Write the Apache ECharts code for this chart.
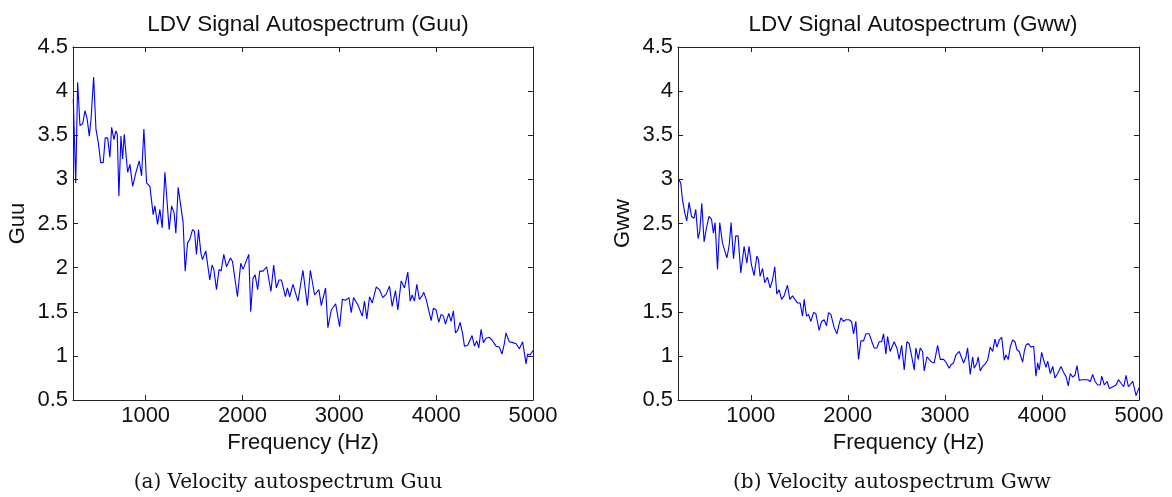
<!DOCTYPE html>
<html><head><meta charset="utf-8">
<script src="https://cdn.jsdelivr.net/npm/echarts@6/dist/echarts.min.js"></script>
<style>html,body{margin:0;padding:0;background:#fff}#c{width:1172px;height:497px}</style>
</head><body><div id="c"></div>
<script>
const xTicks = [1000, 2000, 3000, 4000, 5000];
const freqGuu = [253,278,298,322,350,374,397,418,436,463,487,511,536,562,583,608,631,649,673,693,707,724,745,762,779,814,838,866,900,934,958,982,1010,1044,1078,1096,1123,1147,1171,1199,1243,1268,1294,1312,1336,1387,1408,1433,1456,1484,1505,1525,1546,1570,1587,1621,1662,1686,1704,1732,1758,1779,1807,1835,1851,1876,1897,1917,1948,1982,2006,2026,2065,2085,2109,2130,2157,2178,2212,2250,2294,2322,2350,2377,2402,2443,2464,2487,2521,2573,2624,2670,2701,2745,2789,2814,2858,2882,2917,2962,3003,3031,3065,3099,3123,3147,3191,3209,3237,3260,3284,3312,3340,3381,3415,3449,3484,3518,3546,3580,3604,3639,3673,3707,3732,3752,3776,3800,3827,3855,3872,3897,3913,3948,3972,4000,4027,4051,4075,4096,4130,4154,4178,4199,4222,4247,4274,4292,4326,4343,4371,4395,4419,4440,4464,4488,4515,4549,4577,4618,4652,4680,4704,4721,4755,4790,4824,4859,4893,4928,4944,4969,5000];
const valGuu = [3.91,2.96,4.10,3.61,3.63,3.78,3.68,3.49,3.68,4.16,3.57,3.42,3.19,3.19,3.47,3.47,3.25,3.59,3.45,3.55,3.51,2.81,3.49,3.23,3.51,3.08,3.17,2.92,3.08,3.21,3.04,3.57,2.96,2.92,2.60,2.70,2.49,2.66,2.45,3.08,2.43,2.70,2.62,2.39,2.91,2.51,1.96,2.28,2.32,2.43,2.41,2.15,2.43,2.17,2.09,2.19,1.86,2.03,1.98,1.75,1.98,1.96,2.15,2.01,2.01,2.11,2.07,2.05,1.67,2.05,1.98,2.00,2.15,1.50,1.88,1.92,1.75,1.96,1.96,2.01,1.73,2.03,1.77,1.86,1.86,1.67,1.77,1.67,1.81,1.62,1.97,1.57,1.97,1.69,1.75,1.57,1.77,1.32,1.52,1.59,1.33,1.64,1.63,1.66,1.49,1.66,1.58,1.59,1.45,1.62,1.42,1.67,1.60,1.78,1.75,1.66,1.70,1.79,1.56,1.74,1.52,1.85,1.77,1.95,1.62,1.69,1.62,1.81,1.64,1.68,1.72,1.64,1.62,1.40,1.54,1.52,1.38,1.47,1.45,1.36,1.48,1.39,1.51,1.26,1.29,1.38,1.25,1.11,1.12,1.10,1.23,1.11,1.17,1.09,1.30,1.15,1.20,1.21,1.18,1.11,1.10,1.02,1.14,1.26,1.16,1.15,1.14,1.08,1.16,0.91,1.02,1.01,1.06];
const freqGww = [255,278,296,320,340,364,389,415,433,457,474,495,519,543,570,595,615,632,657,680,708,753,776,797,822,845,869,897,931,959,982,1007,1034,1062,1079,1096,1121,1144,1172,1199,1224,1247,1268,1292,1317,1343,1378,1402,1430,1454,1481,1508,1533,1550,1574,1595,1619,1646,1670,1704,1729,1756,1780,1801,1825,1859,1887,1910,1928,1956,1979,2013,2038,2059,2083,2110,2134,2162,2186,2220,2248,2271,2299,2323,2348,2368,2392,2409,2436,2444,2477,2505,2529,2554,2581,2608,2632,2657,2684,2701,2725,2746,2770,2787,2815,2838,2863,2890,2925,2952,2987,3010,3044,3062,3089,3114,3131,3148,3165,3193,3217,3234,3261,3286,3302,3330,3343,3364,3389,3416,3440,3467,3492,3516,3536,3560,3585,3612,3629,3653,3673,3698,3722,3742,3766,3801,3818,3835,3859,3887,3915,3938,3956,3972,3997,4018,4041,4059,4086,4111,4134,4162,4196,4224,4247,4271,4292,4316,4340,4361,4385,4409,4436,4471,4498,4523,4547,4574,4601,4616,4643,4671,4695,4730,4764,4788,4815,4843,4866,4891,4911,4936,4970,4994,5000];
const valGww = [3.00,2.96,2.77,2.62,2.53,2.74,2.58,2.56,2.66,2.33,2.41,2.73,2.29,2.45,2.58,2.55,2.39,2.51,1.98,2.51,2.28,2.11,2.24,2.51,2.10,2.36,2.36,1.94,2.24,2.05,2.24,2.03,1.91,2.13,2.09,1.90,1.99,1.83,1.89,1.77,1.86,2.01,1.70,1.75,1.64,1.68,1.80,1.64,1.68,1.64,1.60,1.60,1.45,1.64,1.45,1.47,1.39,1.49,1.48,1.29,1.39,1.41,1.34,1.49,1.47,1.32,1.25,1.36,1.43,1.39,1.41,1.41,1.39,1.25,1.39,0.96,1.17,1.17,1.25,1.25,1.16,1.09,1.09,1.16,1.16,1.25,1.02,1.22,1.05,1.07,1.16,1.09,0.96,1.12,0.84,1.16,1.14,1.00,0.84,1.09,0.96,1.09,1.05,0.83,0.99,0.96,0.93,0.92,1.12,0.96,0.96,0.93,0.86,0.90,0.92,1.01,0.99,1.05,1.07,0.92,0.99,1.09,0.79,0.99,0.86,0.92,0.99,0.83,0.88,0.91,0.95,1.10,1.05,1.19,1.10,1.18,1.21,0.95,1.01,0.96,1.10,1.18,1.16,1.07,1.05,0.93,1.05,1.12,1.14,1.10,1.11,0.77,0.92,0.84,1.04,0.95,0.87,0.94,0.80,0.88,0.75,0.80,0.88,0.81,0.77,0.66,0.80,0.76,0.78,0.89,0.72,0.73,0.73,0.73,0.71,0.79,0.71,0.67,0.67,0.77,0.67,0.71,0.63,0.65,0.67,0.73,0.69,0.65,0.78,0.65,0.65,0.71,0.55,0.62,0.64];
const titles = ['LDV Signal Autospectrum (Guu)', 'LDV Signal Autospectrum (Gww)'];
const yNames = ['Guu', 'Gww'];
const xName = 'Frequency (Hz)';
const captions = ['(a) Velocity autospectrum Guu', '(b) Velocity autospectrum Gww'];

const sans = 'Liberation Sans';
const ink = '#111';
const axisCol = '#222';
const grids = [{left: 73, top: 47, width: 460, height: 353}, {left: 678, top: 47, width: 461, height: 353}];
const xAxes = [], yAxes = [];
grids.forEach((g, i) => {
  const tick = {show: true, inside: true, length: 5, customValues: xTicks, lineStyle: {color: axisCol, width: 1}};
  xAxes.push({type: 'value', gridIndex: i, position: 'bottom', min: 250, max: 5000,
    axisLine: {show: true, onZero: false, lineStyle: {color: axisCol, width: 1}},
    axisTick: tick, splitLine: {show: false},
    axisLabel: {show: true, customValues: xTicks, formatter: v => String(v), margin: 5, fontFamily: sans, fontSize: 22, color: ink},
    name: xName, nameLocation: 'middle', nameGap: 29, nameTextStyle: {fontFamily: sans, fontSize: 22, color: ink}});
  xAxes.push({type: 'value', gridIndex: i, position: 'top', min: 250, max: 5000,
    axisLine: {show: true, onZero: false, lineStyle: {color: axisCol, width: 1}},
    axisTick: tick, axisLabel: {show: false}, splitLine: {show: false}});
  yAxes.push({type: 'value', gridIndex: i, position: 'left', min: 0.5, max: 4.5, interval: 0.5,
    axisLine: {show: true, onZero: false, lineStyle: {color: axisCol, width: 1}},
    axisTick: {show: true, inside: true, length: 5, lineStyle: {color: axisCol, width: 1}},
    splitLine: {show: false},
    axisLabel: {margin: 5, fontFamily: sans, fontSize: 22, color: ink},
    name: yNames[i], nameLocation: 'middle', nameGap: 44, nameTextStyle: {fontFamily: sans, fontSize: 22, color: ink}});
  yAxes.push({type: 'value', gridIndex: i, position: 'right', min: 0.5, max: 4.5, interval: 0.5,
    axisLine: {show: true, onZero: false, lineStyle: {color: axisCol, width: 1}},
    axisTick: {show: true, inside: true, length: 5, lineStyle: {color: axisCol, width: 1}},
    axisLabel: {show: false}, splitLine: {show: false}});
});
const zip = (a, b) => a.map((f, k) => [f, b[k]]);
const option = {
  animation: false,
  backgroundColor: '#fff',
  title: [
    {text: titles[0], left: 303, top: 8, textAlign: 'center', textStyle: {fontFamily: sans, fontSize: 22.5, fontWeight: 'normal', color: ink}},
    {text: titles[1], left: 908, top: 8, textAlign: 'center', textStyle: {fontFamily: sans, fontSize: 22.5, fontWeight: 'normal', color: ink}},
    {text: captions[0], left: 283, top: 468, textAlign: 'center', textStyle: {fontFamily: 'DejaVu Serif', fontSize: 20, fontWeight: 'normal', color: ink}},
    {text: captions[1], left: 887, top: 468, textAlign: 'center', textStyle: {fontFamily: 'DejaVu Serif', fontSize: 20, fontWeight: 'normal', color: ink}}
  ],
  grid: grids,
  xAxis: xAxes,
  yAxis: yAxes,
  series: [
    {type: 'line', xAxisIndex: 0, yAxisIndex: 0, data: zip(freqGuu, valGuu), showSymbol: false, lineStyle: {color: '#0000ff', width: 1.1}},
    {type: 'line', xAxisIndex: 2, yAxisIndex: 2, data: zip(freqGww, valGww), showSymbol: false, lineStyle: {color: '#0000ff', width: 1.1}}
  ]
};
echarts.init(document.getElementById('c')).setOption(option);
</script></body></html>
